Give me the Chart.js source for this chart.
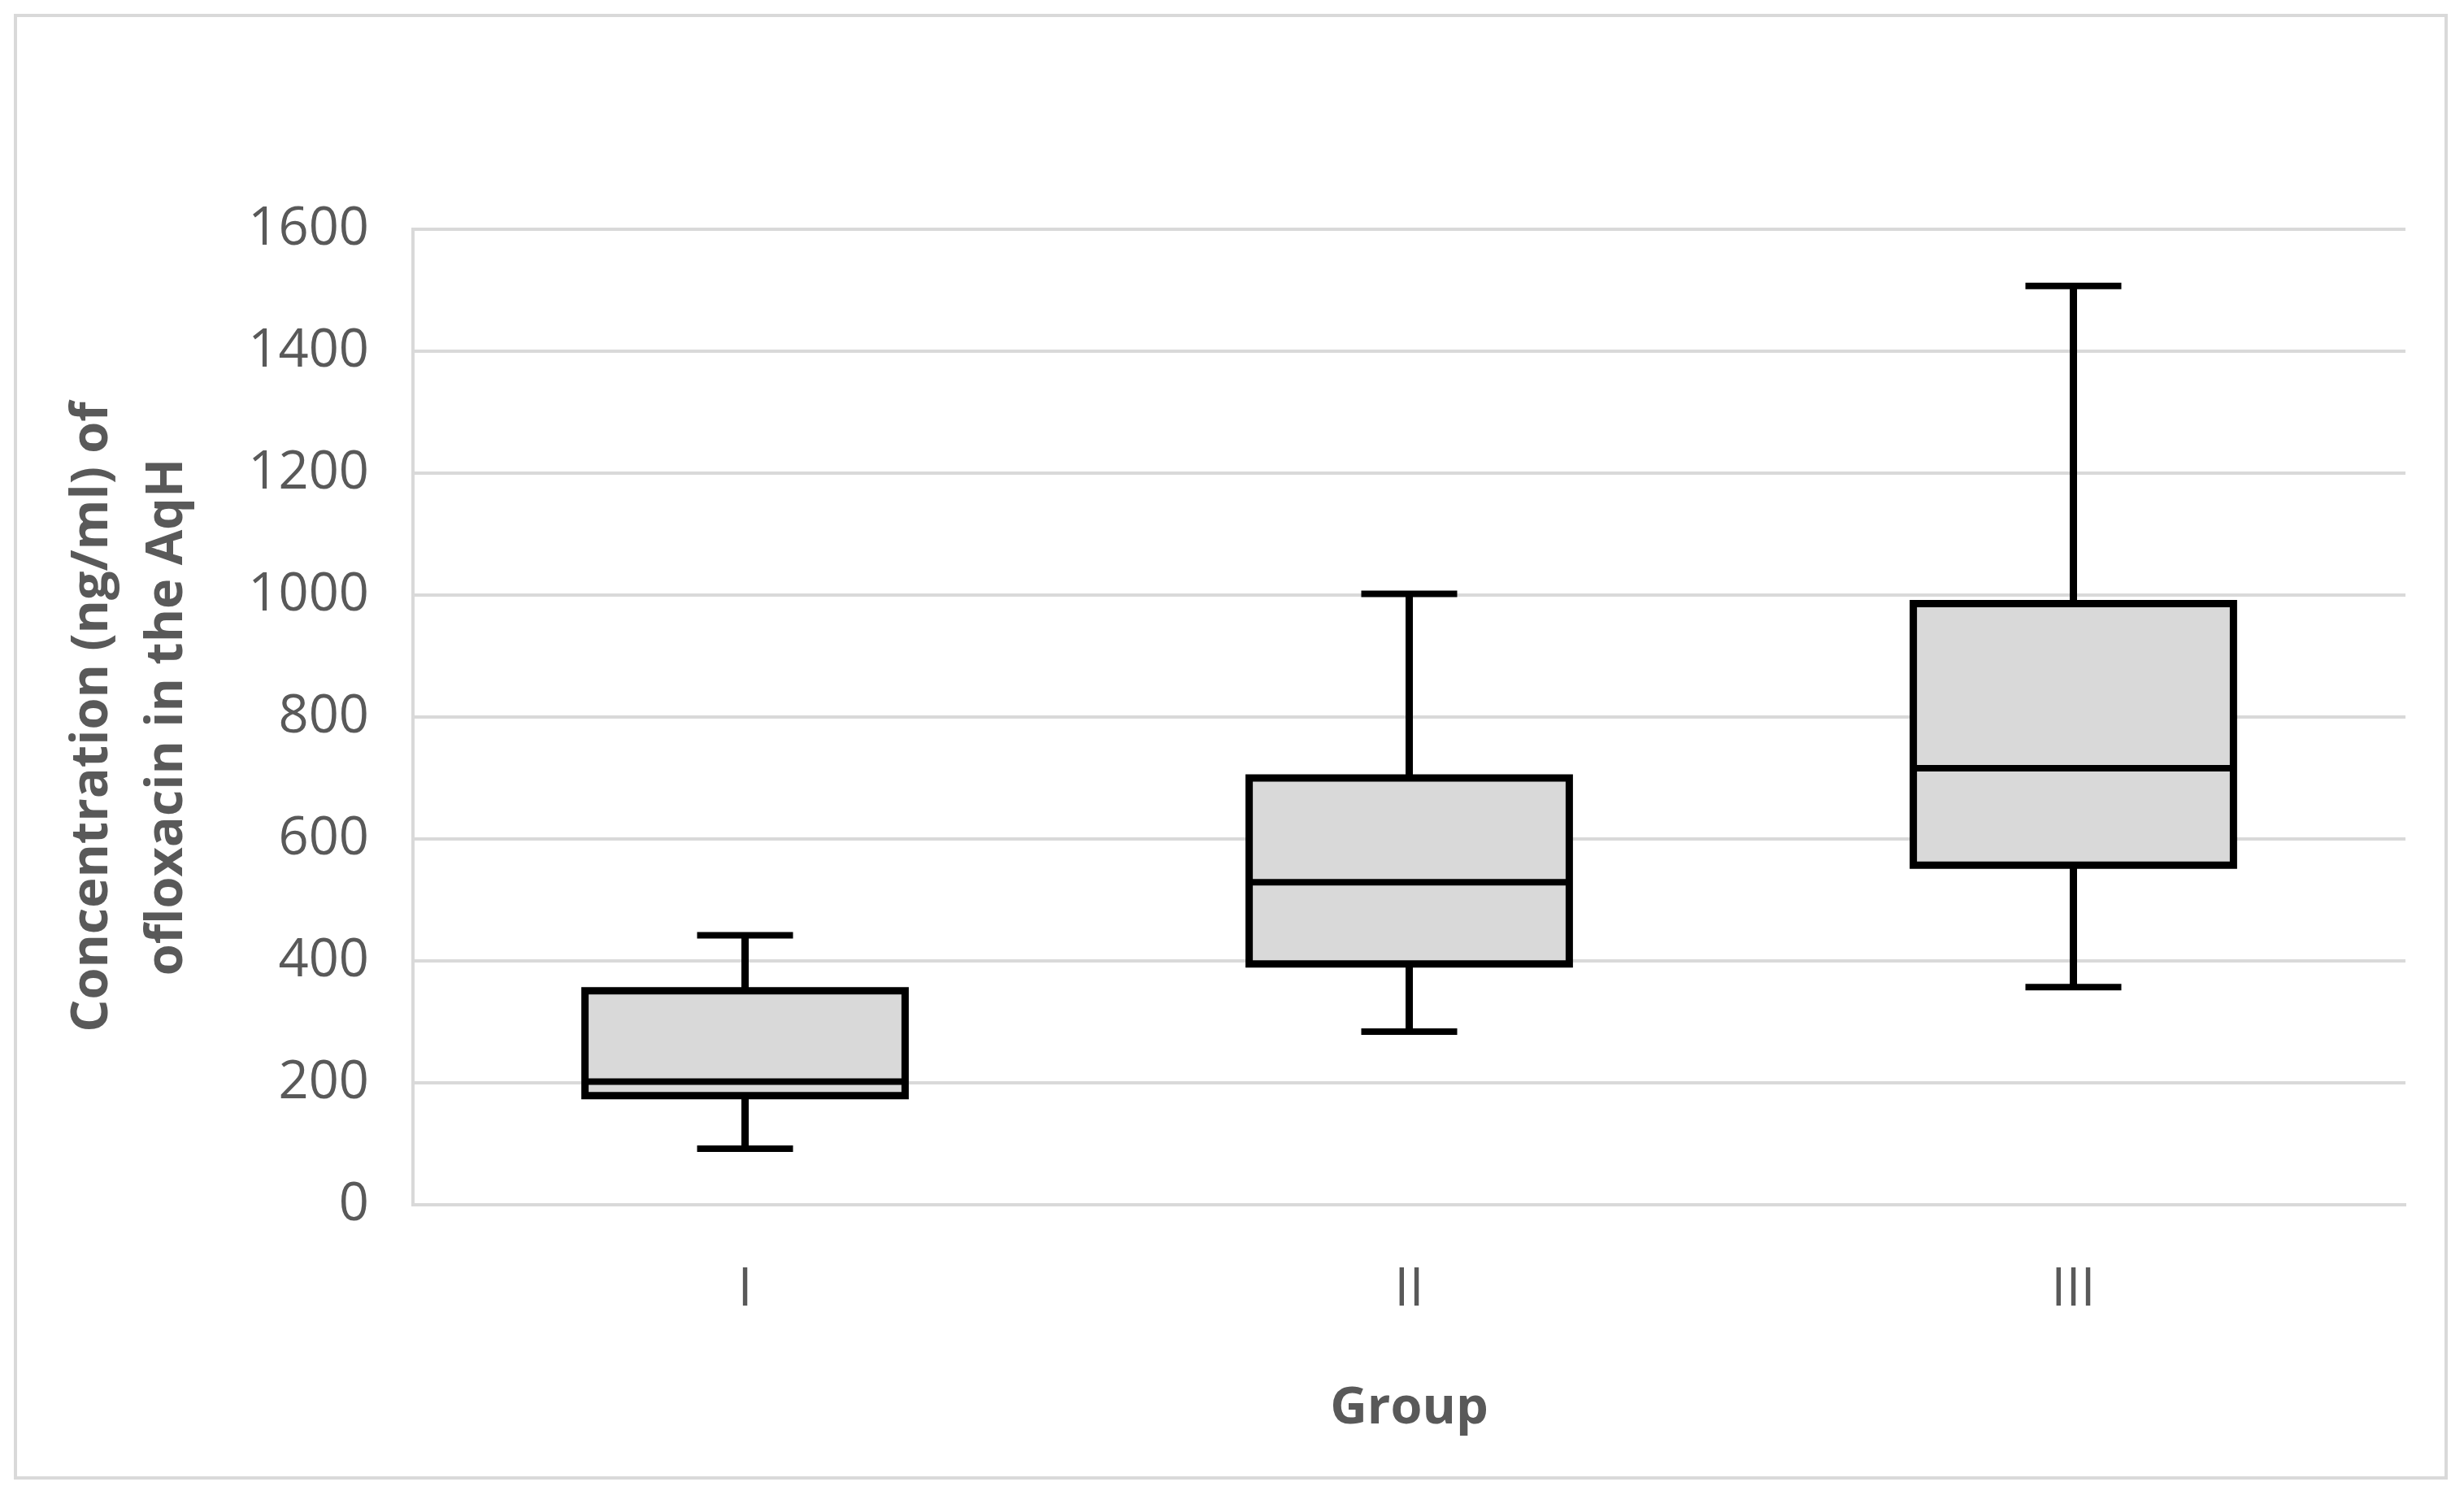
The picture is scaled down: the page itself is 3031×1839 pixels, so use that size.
<!DOCTYPE html>
<html>
<head>
<meta charset="utf-8">
<title>Ofloxacin concentration by group</title>
<script src="https://cdn.jsdelivr.net/npm/chart.js@4.4.1/dist/chart.umd.min.js"></script>
<style>
  html, body { margin: 0; padding: 0; background: #ffffff; }
  #chartBox { display: block; }
</style>
</head>
<body>
<canvas id="chartBox" width="3031" height="1839" style="width:3031px;height:1839px"></canvas>
<script>
// Valores (ng/ml)
const grupos = ['I', 'II', 'III'];
const minimos = [92, 284, 357];
const quartil1 = [179, 395, 557];
const medianas = [202, 529, 716];
const quartil3 = [351, 700, 986];
const maximos = [442, 1002, 1507];
const yTicks = [0, 200, 400, 600, 800, 1000, 1200, 1400, 1600];

const corTexto = '#595959';
const corGrade = '#d9d9d9';

// moldura externa
const moldura = {
    id: 'moldura',
    beforeDraw(chart) {
        const ctx = chart.ctx;
        ctx.save();
        ctx.fillStyle = '#ffffff';
        ctx.fillRect(0, 0, chart.width, chart.height);
        ctx.strokeStyle = corGrade;
        ctx.lineWidth = 4;
        ctx.strokeRect(19, 19, 2990, 1799);
        ctx.restore();
    }
};

// bigodes, mediana e contorno da caixa
const boxplot = {
    id: 'boxplot',
    afterDatasetsDraw(chart) {
        const ctx = chart.ctx;
        const y = chart.scales.y;
        const meta = chart.getDatasetMeta(0);
        ctx.save();
        ctx.strokeStyle = '#000000';
        meta.data.forEach((bar, i) => {
            const x = bar.x;
            const meia = bar.width / 2;
            const yMin = y.getPixelForValue(minimos[i]);
            const yQ1 = y.getPixelForValue(quartil1[i]);
            const yMed = y.getPixelForValue(medianas[i]);
            const yQ3 = y.getPixelForValue(quartil3[i]);
            const yMax = y.getPixelForValue(maximos[i]);

            // bigodes
            ctx.lineWidth = 9;
            ctx.beginPath();
            ctx.moveTo(x, yQ3); ctx.lineTo(x, yMax);
            ctx.moveTo(x, yQ1); ctx.lineTo(x, yMin);
            ctx.stroke();

            // tampas
            ctx.lineWidth = 8;
            ctx.beginPath();
            ctx.moveTo(x - 59, yMax); ctx.lineTo(x + 59, yMax);
            ctx.moveTo(x - 59, yMin); ctx.lineTo(x + 59, yMin);
            ctx.stroke();

            // caixa
            ctx.lineWidth = 9;
            ctx.strokeRect(x - meia, yQ3, bar.width, yQ1 - yQ3);

            // mediana
            ctx.lineWidth = 8;
            ctx.beginPath();
            ctx.moveTo(x - meia, yMed); ctx.lineTo(x + meia, yMed);
            ctx.stroke();
        });
        ctx.restore();
    }
};

const ctx = document.getElementById('chartBox');
new Chart(ctx, {
    type: 'bar',
    data: {
        labels: grupos,
        datasets: [{
            data: grupos.map((g, i) => [quartil1[i], quartil3[i]]),
            backgroundColor: '#d9d9d9',
            borderWidth: 0,
            barPercentage: 0.482,
            categoryPercentage: 1
        }]
    },
    options: {
        responsive: false,
        animation: false,
        devicePixelRatio: 1,
        layout: { padding: { top: 282, right: 72, bottom: 0, left: 0 } },
        plugins: { legend: { display: false }, tooltip: { enabled: false } },
        scales: {
            x: {
                grid: { display: false, drawTicks: false },
                border: { display: true, color: corGrade, width: 4 },
                ticks: {
                    color: corTexto,
                    padding: 66,
                    font: { family: 'Open Sans', size: 65 }
                },
                title: {
                    display: true,
                    text: 'Group',
                    color: corTexto,
                    font: { family: 'Open Sans', size: 63, weight: 'bold' },
                    padding: { top: 0, bottom: 68 }
                },
                afterFit(scale) { scale.height = 357; }
            },
            y: {
                min: 0,
                max: 1600,
                afterBuildTicks(scale) { scale.ticks = yTicks.map(v => ({ value: v })); },
                grid: { color: corGrade, lineWidth: 4, drawTicks: false },
                border: { display: true, color: corGrade, width: 4 },
                ticks: {
                    color: corTexto,
                    padding: 54,
                    font: { family: 'Open Sans', size: 65 },
                    callback: v => String(v)
                },
                title: {
                    display: true,
                    text: ['Concentration (ng/ml) of', 'ofloxacin in the AqH'],
                    color: corTexto,
                    font: { family: 'Open Sans', size: 63, weight: 'bold', lineHeight: 1.46 },
                    padding: { top: 68, bottom: 0 }
                },
                afterFit(scale) { scale.width = 508; }
            }
        }
    },
    plugins: [moldura, boxplot]
});
</script>
</body>
</html>
